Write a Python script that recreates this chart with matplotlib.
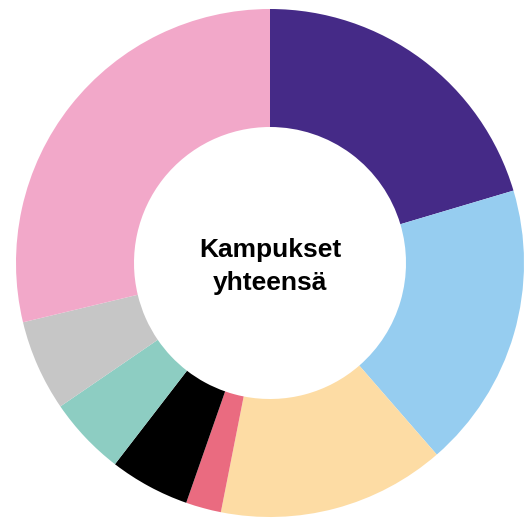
import matplotlib.pyplot as plt

# share of each slice, clockwise from 12 o'clock (percent)
shares = [20.4, 18.2, 14.5, 2.25, 5.1, 5.0, 5.8, 28.75]
colors = ['#452a87', '#96cdf0', '#fddca4', '#ea6b80', '#000000', '#8dcdc2', '#c6c6c6', '#f2a8c9']
center_lines = ['Kampukset', 'yhteensä']

plt.rcParams['font.family'] = ['Liberation Sans', 'DejaVu Sans']

fig = plt.figure(figsize=(5.24, 5.19), dpi=100)
ax = fig.add_axes([0, 0, 1, 1])

outer_r = 254
inner_r = 136
ax.pie(shares, colors=colors, startangle=90, counterclock=False, radius=outer_r,
       wedgeprops=dict(width=outer_r - inner_r, linewidth=0))

ax.text(0, 6, center_lines[0], ha='center', va='baseline', fontsize=19, fontweight='bold')
ax.text(0, -27, center_lines[1], ha='center', va='baseline', fontsize=19, fontweight='bold')

ax.set_aspect('equal')
ax.set_xlim(-270, 254)
ax.set_ylim(-256, 263)
ax.axis('off')

fig.savefig('out.png', dpi=100, facecolor='white')
